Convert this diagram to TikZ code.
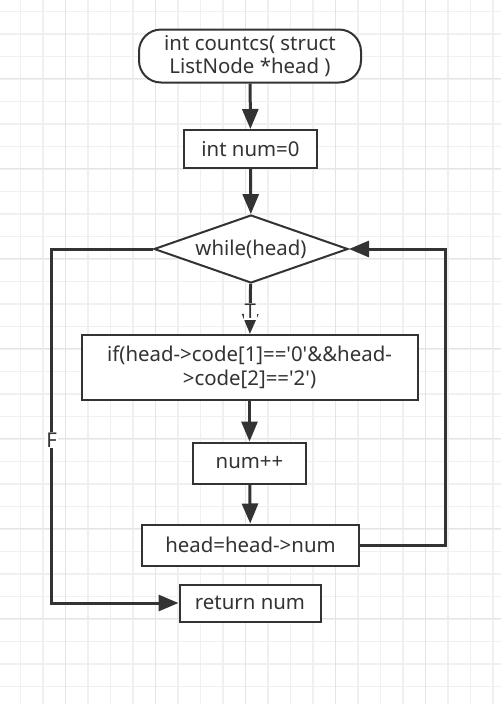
\documentclass[tikz,border=0pt]{standalone}
\usepackage{fontspec}
\setmainfont{Noto Sans}[Ligatures=TeXOff]
\usetikzlibrary{shapes.geometric,arrows.meta}
\newlength{\px}
\setlength{\px}{0.75pt}
\definecolor{ink}{HTML}{333333}
\definecolor{gridminor}{HTML}{F0F0F0}
\definecolor{gridmajor}{HTML}{E4E4E4}
\tikzset{
    box/.style={draw=ink, line width=2\px, fill=white, text=ink, align=center, inner sep=0pt},
    terminal/.style={box, rounded corners=22\px},
    decision/.style={box, diamond, aspect=2.85},
    flow/.style={draw=ink, line width=3\px, -{Triangle[length=15pt,width=12pt]}},
    edgelabel/.style={fill=white, text=ink, inner sep=1\px},
}

\begin{document}
\begin{tikzpicture}[x=\px, y=-\px, font=\fontsize{15.3}{17.7}\selectfont]
    \useasboundingbox (0,0) rectangle (501,704);
    \foreach \i in {0,...,21}
        \draw[gridminor, line width=1.5\px] ({20.7+22.5*\i},0) -- ({20.7+22.5*\i},704);
    \foreach \j in {0,...,30}
        \draw[gridminor, line width=1.5\px] (0,{11.7+22.5*\j}) -- (501,{11.7+22.5*\j});
    \foreach \i in {0,...,4}
        \draw[gridmajor, line width=1.5\px] ({65.3+90*\i},0) -- ({65.3+90*\i},704);
    \foreach \j in {0,...,6}
        \draw[gridmajor, line width=1.5\px] (0,{78.7+90*\j}) -- (501,{78.7+90*\j});

    \node[terminal, minimum width=222\px, minimum height=53\px] (start) at (250,56) {int countcs( struct\\ListNode *head )};
    \node[box, minimum width=133\px, minimum height=38\px] (init) at (250.5,149) {int num=0};
    \node[decision, minimum width=194\px, minimum height=68\px] (loop) at (251,249) {while(head)};
    \node[box, minimum width=336\px, minimum height=65\px] (test) at (249.5,367.5) {if(head->code[1]=='0'\&\&head-\\>code[2]=='2')};
    \node[box, minimum width=113\px, minimum height=41\px] (inc) at (249.5,463) {num++};
    \node[box, minimum width=217\px, minimum height=41\px] (next) at (250.5,545) {head=head->num};
    \node[box, minimum width=141\px, minimum height=37\px] (ret) at (250,603) {return num};
    \coordinate (backR) at (445.7,545);
    \coordinate (backL) at (51.7,249);

    \draw[flow] (start) -- (init);
    \draw[flow] (init) -- (loop);
    \draw[flow] (loop) -- node[edgelabel, pos=0.55] {T} (test);
    \draw[flow] (test) -- (inc);
    \draw[flow] (inc) -- (next);
    \draw[flow] (next.east) -- (backR) |- (loop.east);
    \draw[flow] (loop.west) -- (backL) |- node[edgelabel, pos=0.27] {F} (ret.west);
\end{tikzpicture}
\end{document}
